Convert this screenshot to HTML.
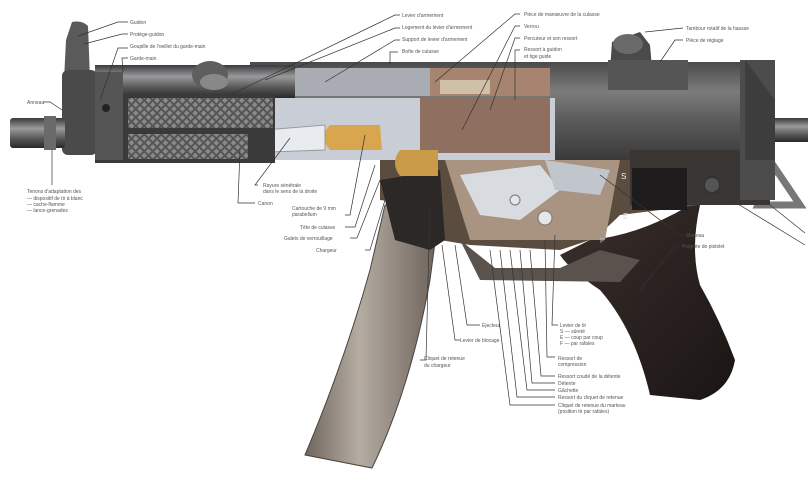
<!DOCTYPE html>
<html><head><meta charset="utf-8"><style>
html,body{margin:0;padding:0;background:#fff;}
svg{display:block}
text{font-family:"Liberation Sans",sans-serif;font-size:5px;fill:#555}
</style></head><body>
<svg width="808" height="484" viewBox="0 0 808 484" xmlns="http://www.w3.org/2000/svg">
<defs>
<linearGradient id="tube" x1="0" y1="0" x2="0" y2="1">
<stop offset="0" stop-color="#3a3a3c"/><stop offset=".35" stop-color="#9a9a9c"/><stop offset=".7" stop-color="#555"/><stop offset="1" stop-color="#2a2a2a"/></linearGradient>
<linearGradient id="recv" x1="0" y1="0" x2="0" y2="1">
<stop offset="0" stop-color="#4a4a4a"/><stop offset=".3" stop-color="#7c7c7c"/><stop offset=".6" stop-color="#5a5a5a"/><stop offset="1" stop-color="#3a3a3a"/></linearGradient>
<linearGradient id="mag" x1="0" y1="0" x2="1" y2="0">
<stop offset="0" stop-color="#6e655c"/><stop offset=".4" stop-color="#b5aca2"/><stop offset="1" stop-color="#6a6058"/></linearGradient>
<linearGradient id="grip" x1="0" y1="0" x2="1" y2="1">
<stop offset="0" stop-color="#3a302c"/><stop offset=".5" stop-color="#2a2220"/><stop offset="1" stop-color="#1a1514"/></linearGradient>
<pattern id="chk" width="6" height="6" patternUnits="userSpaceOnUse" patternTransform="rotate(45)">
<rect width="6" height="6" fill="#555"/><rect width="4" height="4" fill="#8a8a8a"/></pattern>
</defs>

<!-- magazine -->
<path d="M385,205 L440,205 L430,280 Q410,390 372,468 L305,455 Q345,360 370,270 Z" fill="url(#mag)" stroke="#4a423c"/>
<!-- stock stub -->
<rect x="770" y="118" width="38" height="24" fill="url(#tube)"/>
<!-- sling loop -->
<path d="M775,168 L800,205 L758,205 Z" fill="none" stroke="#777" stroke-width="7"/>
<!-- pistol grip -->
<path d="M590,240 Q640,235 690,205 L700,205 Q690,250 700,285 Q720,320 735,360 Q730,390 700,400 L650,395 Q635,330 600,290 Q570,270 560,255 Z" fill="url(#grip)"/>
<!-- trigger guard -->
<path d="M460,240 L480,280 L620,282 L640,260 L600,250 L560,268 L495,268 Z" fill="#5a524c"/>
<!-- lower receiver/trigger group -->
<path d="M380,150 L700,150 L700,205 L620,215 Q600,235 590,240 L560,250 L470,245 L440,240 L420,205 L380,200 Z" fill="#5b4c40"/>
<path d="M445,160 L620,160 L605,240 L470,240 Z" fill="#a89480"/>
<path d="M460,175 L540,165 L560,190 L520,220 L480,215 Z" fill="#d8dce0"/>
<path d="M545,160 L610,170 L600,195 L555,190 Z" fill="#c0c6cc"/>
<circle cx="545" cy="218" r="7" fill="#e4e6e8" stroke="#777"/>
<circle cx="515" cy="200" r="5" fill="#e4e6e8" stroke="#777"/>
<!-- mag well -->
<path d="M380,180 L440,170 L445,240 L430,250 L395,240 Z" fill="#2c2828"/>
<!-- main receiver -->
<rect x="250" y="62" width="520" height="98" fill="url(#recv)"/>
<rect x="630" y="150" width="140" height="55" fill="#3a3634"/>
<rect x="632" y="168" width="55" height="42" fill="#1e1c1c"/>
<circle cx="712" cy="185" r="8" fill="#555" stroke="#333" stroke-width="2"/>
<rect x="740" y="60" width="35" height="140" fill="#4c4c4c"/>
<path d="M745,60 L775,100 L775,160 L745,160Z" fill="#3d3d3d"/>
<!-- upper cutaway -->
<rect x="250" y="68" width="300" height="28" fill="#a9adb3"/>
<rect x="430" y="68" width="120" height="28" fill="#a68470"/>
<rect x="440" y="80" width="50" height="14" fill="#d0c0a8"/>
<rect x="255" y="98" width="300" height="62" fill="#c9ced6"/>
<rect x="420" y="98" width="130" height="55" fill="#8f7060"/>
<!-- cartridges -->
<path d="M330,125 L380,125 L382,150 L330,150 Q318,137 330,125Z" fill="#d9a650"/>
<path d="M400,150 L438,150 L438,176 L400,176 Q390,163 400,150Z" fill="#c99a48"/>
<!-- barrel in cutaway -->
<path d="M265,130 L325,125 L325,150 L270,152 Q255,140 265,130Z" fill="#e8ecf0" stroke="#999"/>
<!-- upper tube -->
<rect x="95" y="65" width="200" height="33" fill="url(#tube)"/>
<!-- cocking handle -->
<ellipse cx="210" cy="75" rx="18" ry="14" fill="#5e5e5e"/>
<ellipse cx="214" cy="82" rx="14" ry="8" fill="#888"/>
<!-- rear sight -->
<path d="M612,42 L640,32 L650,45 L652,68 L610,70 Z" fill="#4a4a4a"/>
<ellipse cx="628" cy="44" rx="15" ry="10" fill="#6a6a6a"/>
<rect x="608" y="60" width="80" height="30" fill="#555"/>
<!-- handguard -->
<rect x="95" y="95" width="180" height="68" fill="#3a3a3a"/>
<rect x="128" y="98" width="145" height="30" fill="url(#chk)"/>
<rect x="128" y="134" width="120" height="25" fill="url(#chk)"/>
<!-- front sight -->
<path d="M72,22 Q82,20 88,26 L90,80 L64,80 L66,40 Z" fill="#5a5a5a"/>
<rect x="62" y="70" width="35" height="85" rx="6" fill="#4a4a4a"/>
<rect x="95" y="72" width="28" height="88" fill="#555"/>
<circle cx="106" cy="108" r="4" fill="#222"/>
<!-- muzzle -->
<rect x="10" y="118" width="55" height="30" rx="3" fill="url(#tube)"/>
<rect x="44" y="116" width="12" height="34" fill="#6a6a6a"/>

<!-- leader lines -->
<g stroke="#333" stroke-width="0.7" fill="none">
<path d="M78,36 L118,22 L128,22"/><path d="M84,44 L122,34 L128,34"/>
<path d="M100,100 L118,48 L128,48"/><path d="M123,72 L122,58 L128,58"/>
<path d="M62,110 L50,102 L43,102"/><path d="M52,150 L52,185"/>
<path d="M230,95 L395,15 L400,15"/><path d="M265,80 L395,28 L400,28"/>
<path d="M325,82 L395,40 L400,40"/><path d="M390,64 L390,52 L398,52"/>
<path d="M435,82 L515,14 L520,14"/><path d="M462,130 L515,26 L520,26"/>
<path d="M490,110 L515,38 L520,38"/><path d="M515,100 L515,50 L520,50"/>
<path d="M645,32 L683,28"/><path d="M660,62 L675,40 L683,40"/>
<path d="M290,138 L255,185 L258,185"/><path d="M240,150 L238,203 L255,203"/>
<path d="M365,135 L350,215 L345,215"/><path d="M375,165 L355,227 L345,227"/>
<path d="M380,180 L357,238 L350,238"/><path d="M385,200 L370,250 L365,250"/>
<path d="M430,205 L426,360 L420,360"/><path d="M442,245 L455,340 L460,340"/>
<path d="M455,245 L467,325 L480,325"/>
<path d="M490,250 L510,405 L555,405"/><path d="M500,250 L517,397 L555,397"/>
<path d="M510,250 L527,390 L555,390"/><path d="M520,250 L532,383 L555,383"/>
<path d="M530,250 L541,376 L555,376"/><path d="M545,240 L547,357 L555,357"/>
<path d="M555,235 L552,325 L558,325"/>
<path d="M600,175 L680,235 L684,235"/><path d="M640,290 L675,246 L680,246"/>
<path d="M715,190 L805,245"/><path d="M770,205 L805,233"/>
</g>

<!-- labels -->
<text x="130" y="24">Guidon</text>
<text x="130" y="36">Protège-guidon</text>
<text x="130" y="48">Goupille de l'oeillet du garde-main</text>
<text x="130" y="60">Garde-main</text>
<text x="27" y="104">Anneau</text>
<text x="27" y="193">Tenons d'adaptation des</text>
<text x="27" y="200">— dispositif de tir à blanc</text>
<text x="27" y="206">— cache-flamme</text>
<text x="27" y="212">— lance-grenades</text>
<text x="263" y="187">Rayure sénétrale</text>
<text x="263" y="193">dans le sens de la droite</text>
<text x="258" y="205">Canon</text>
<text x="292" y="210">Cartouche de 9 mm</text>
<text x="292" y="216">parabellum</text>
<text x="300" y="229">Tête de culasse</text>
<text x="284" y="240">Galets de verrouillage</text>
<text x="316" y="252">Chargeur</text>
<text x="402" y="17">Levier d'armement</text>
<text x="402" y="29">Logement du levier d'armement</text>
<text x="402" y="41">Support de levier d'armement</text>
<text x="402" y="53">Boîte de culasse</text>
<text x="524" y="16">Pièce de manœuvre de la culasse</text>
<text x="524" y="28">Verrou</text>
<text x="524" y="40">Percuteur et son ressort</text>
<text x="524" y="51">Ressort à guidon</text>
<text x="524" y="58">et tige guide</text>
<text x="686" y="30">Tambour rotatif de la hausse</text>
<text x="686" y="42">Pièce de réglage</text>
<text x="686" y="237">Marteau</text>
<text x="682" y="248">Poignée de pistolet</text>
<text x="621" y="179" style="font-size:8px;fill:#eee">S</text>
<text x="623" y="219" style="font-size:8px;fill:#ddd">E</text>
<text x="600" y="243" style="font-size:7px;fill:#bbb">F</text>
<text x="482" y="327">Éjecteur</text>
<text x="460" y="342">Levier de blocage</text>
<text x="424" y="360">Cliquet de retenue</text>
<text x="424" y="367">du chargeur</text>
<text x="560" y="327">Levier de tir</text>
<text x="560" y="333">S — sûreté</text>
<text x="560" y="339">E — coup par coup</text>
<text x="560" y="345">F — par rafales</text>
<text x="558" y="360">Ressort de</text>
<text x="558" y="366">compression</text>
<text x="558" y="378">Ressort coudé de la détente</text>
<text x="558" y="385">Détente</text>
<text x="558" y="392">Gâchette</text>
<text x="558" y="399">Ressort du cliquet de retenue</text>
<text x="558" y="407">Cliquet de retenue du marteau</text>
<text x="558" y="413">(position tir par rafales)</text>
</svg>
</body></html>
